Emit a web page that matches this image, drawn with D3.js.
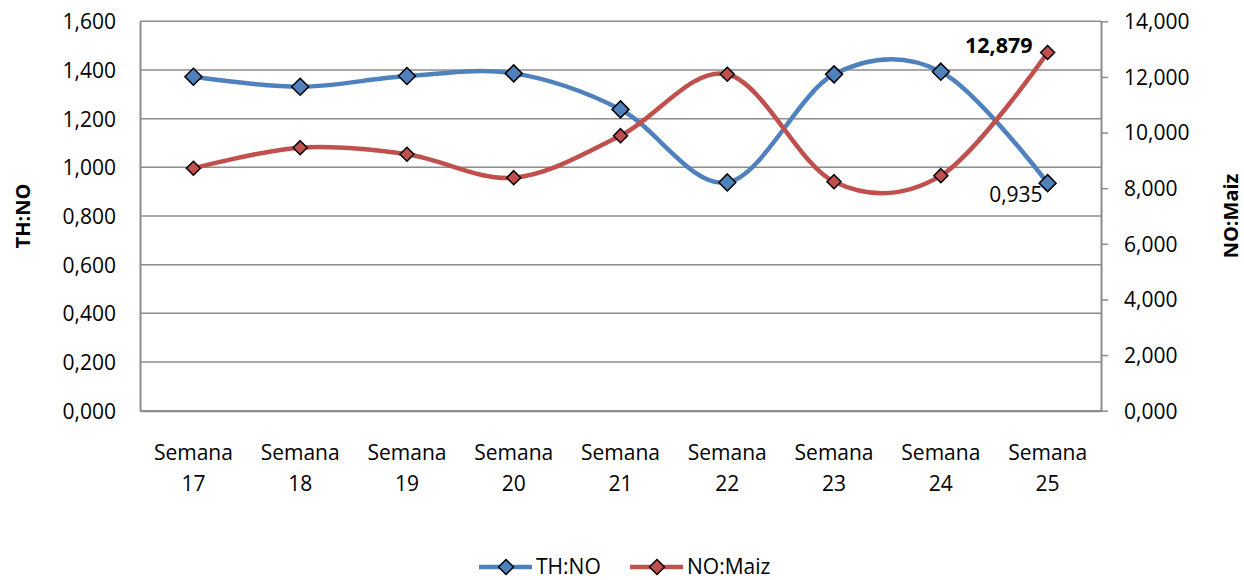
<!DOCTYPE html>
<html>
<head>
<meta charset="utf-8">
<script src="https://cdn.jsdelivr.net/npm/d3@7"></script>
<style>
  body { margin: 0; background: #fff; }
  text { font-family: "Open Sans", "Noto Sans", sans-serif; fill: #000; }
</style>
</head>
<body>
<div id="vis1" style="width:1244px;height:580px"></div>
<script>
/*
Data
*/
const weeks = ["17", "18", "19", "20", "21", "22", "23", "24", "25"];
const thNo = [1.372, 1.331, 1.375, 1.386, 1.238, 0.938, 1.382, 1.393, 0.935];
const noMaiz = [8716, 9457, 9220, 8378, 9888, 12096, 8234, 8450, 12879];
const leftTicks = [0, 0.2, 0.4, 0.6, 0.8, 1.0, 1.2, 1.4, 1.6];
const rightTicks = [0, 2000, 4000, 6000, 8000, 10000, 12000, 14000];
const seriesNames = ["TH:NO", "NO:Maiz"];
const colors = ["#4F81BD", "#C0504D"];

/*
Size constants
*/
const WIDTH = 1244;
const HEIGHT = 580;
const margin = {top: 21.3, right: 143, bottom: 169.3, left: 140};
const width = WIDTH - margin.left - margin.right;
const height = HEIGHT - margin.top - margin.bottom;

/*
Scales
*/
const x = d3.scaleBand().domain(weeks).range([0, width]);
const yLeft = d3.scaleLinear().domain([0, 1.6]).range([height, 0]);
const yRight = d3.scaleLinear().domain([0, 14000]).range([height, 0]);

const fmtLeft = d => d3.format(".3f")(d).replace(".", ",");
const fmtRight = d => d === 0 ? "0,000" : d3.format(",")(d);

const svg = d3.select("#vis1")
  .append("svg")
  .attr("width", WIDTH)
  .attr("height", HEIGHT);

const chart = svg.append("g")
  .attr("transform", `translate(${margin.left}, ${margin.top})`);

// gridlines from the left axis
chart.append("g")
  .selectAll("line")
  .data(leftTicks)
  .enter()
  .append("line")
  .attr("x1", 0)
  .attr("x2", width)
  .attr("y1", d => yLeft(d))
  .attr("y2", d => yLeft(d))
  .attr("stroke", "#8c8c8c")
  .attr("stroke-width", 1.5);

// left axis
const leftAxis = chart.append("g")
  .call(d3.axisLeft(yLeft).tickValues(leftTicks).tickFormat(fmtLeft).tickSize(0).tickPadding(24));
leftAxis.select(".domain").attr("stroke", "#8c8c8c").attr("stroke-width", 2);
leftAxis.selectAll("text").style("font-size", "21px").attr("dy", "0.35em");

// right axis
const rightAxis = chart.append("g")
  .attr("transform", `translate(${width}, 0)`)
  .call(d3.axisRight(yRight).tickValues(rightTicks).tickFormat(fmtRight).tickSizeOuter(0).tickSizeInner(7).tickPadding(16));
rightAxis.select(".domain").attr("stroke", "#8c8c8c").attr("stroke-width", 2);
rightAxis.selectAll("line").attr("stroke", "#8c8c8c").attr("stroke-width", 1.5);
rightAxis.selectAll("text").style("font-size", "21px").attr("dy", "0.35em");

// bottom axis
const bottomAxis = chart.append("g")
  .attr("transform", `translate(0, ${height})`)
  .call(d3.axisBottom(x).tickSize(0).tickFormat(""));
bottomAxis.select(".domain").attr("stroke", "#8c8c8c").attr("stroke-width", 2);

bottomAxis.selectAll(".tick").each(function(d) {
  const t = d3.select(this).append("text")
    .attr("text-anchor", "middle")
    .style("font-size", "21px");
  t.append("tspan").attr("x", 0).attr("y", 49).text("Semana");
  t.append("tspan").attr("x", 0).attr("y", 80).text(d);
});

// axis titles
svg.append("text")
  .attr("transform", `translate(30, ${margin.top + height / 2}) rotate(-90)`)
  .attr("text-anchor", "middle")
  .style("font-size", "20px")
  .style("font-weight", "bold")
  .text(seriesNames[0]);

svg.append("text")
  .attr("transform", `translate(1238, ${margin.top + height / 2}) rotate(-90)`)
  .attr("text-anchor", "middle")
  .style("font-size", "20px")
  .style("font-weight", "bold")
  .text(seriesNames[1]);

/*
Lines
*/
const cx = d => x(d) + x.bandwidth() / 2;
const diamond = s => `M0,${-s}L${s},0L0,${s}L${-s},0Z`;

const lineLeft = d3.line()
  .x((d, i) => cx(weeks[i]))
  .y(d => yLeft(d))
  .curve(d3.curveCardinal.tension(0));

const lineRight = d3.line()
  .x((d, i) => cx(weeks[i]))
  .y(d => yRight(d))
  .curve(d3.curveCardinal.tension(0));

chart.append("path")
  .datum(thNo)
  .attr("d", lineLeft)
  .attr("fill", "none")
  .attr("stroke", colors[0])
  .attr("stroke-width", 4.5);

chart.append("path")
  .datum(noMaiz)
  .attr("d", lineRight)
  .attr("fill", "none")
  .attr("stroke", colors[1])
  .attr("stroke-width", 4.5);

chart.append("g")
  .selectAll("path")
  .data(thNo)
  .enter()
  .append("path")
  .attr("transform", (d, i) => `translate(${cx(weeks[i])}, ${yLeft(d)})`)
  .attr("d", diamond(8.5))
  .attr("fill", colors[0])
  .attr("stroke", "#000")
  .attr("stroke-width", 1.5);

chart.append("g")
  .selectAll("path")
  .data(noMaiz)
  .enter()
  .append("path")
  .attr("transform", (d, i) => `translate(${cx(weeks[i])}, ${yRight(d)})`)
  .attr("d", diamond(7))
  .attr("fill", colors[1])
  .attr("stroke", "#000")
  .attr("stroke-width", 1.5);

// data labels for the last week
const last = weeks.length - 1;
chart.append("text")
  .attr("x", cx(weeks[last]) - 15)
  .attr("y", yRight(noMaiz[last]) + 1)
  .attr("text-anchor", "end")
  .style("font-size", "21.5px")
  .style("font-weight", "bold")
  .text(d3.format(",")(noMaiz[last]));

chart.append("text")
  .attr("x", cx(weeks[last]) - 5)
  .attr("y", yLeft(thNo[last]) + 19)
  .attr("text-anchor", "end")
  .style("font-size", "21px")
  .text(fmtLeft(thNo[last]));

/*
Legend
*/
const legend = svg.append("g").attr("transform", "translate(0, 567)");
const legendX = [479, 630];
seriesNames.forEach((name, i) => {
  const g = legend.append("g").attr("transform", `translate(${legendX[i]}, 0)`);
  g.append("line")
    .attr("x1", 0).attr("x2", 53)
    .attr("stroke", colors[i])
    .attr("stroke-width", 4.5);
  g.append("path")
    .attr("transform", "translate(27, 0)")
    .attr("d", diamond(7.5))
    .attr("fill", colors[i])
    .attr("stroke", "#000")
    .attr("stroke-width", 1.5);
  g.append("text")
    .attr("x", 57)
    .attr("dy", "0.35em")
    .style("font-size", "21px")
    .text(name);
});
</script>
</body>
</html>
